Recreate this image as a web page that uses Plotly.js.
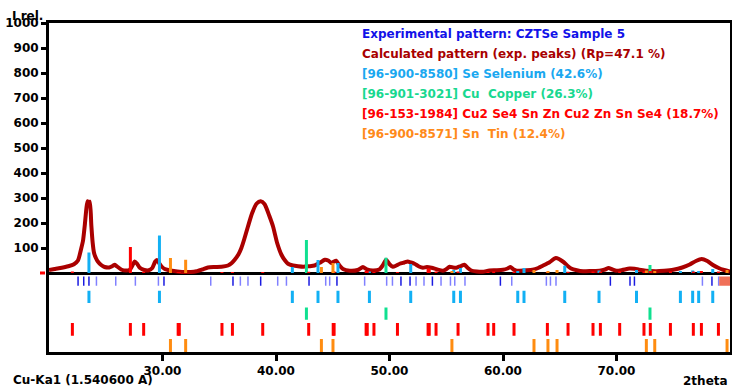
<!DOCTYPE html>
<html>
<head>
<meta charset="utf-8">
<script src="https://cdn.plot.ly/plotly-3.0.1.min.js"></script>
<style>html,body{margin:0;padding:0;background:#fff;}#chart{width:732px;height:387px;}</style>
</head>
<body>
<div id="chart"></div>
<script>
// ---- Calculated pattern (2theta, intensity) ----
const twoTheta = [20.0,20.5,21.0,21.7,22.2,22.55,22.85,23.0,23.15,23.3,23.4,23.5,23.6,23.73,23.85,23.97,24.15,24.3,24.6,24.9,25.3,25.6,25.8,26.0,26.4,26.8,27.1,27.35,27.55,27.75,28.0,28.4,28.8,29.1,29.35,29.5,29.7,29.9,30.2,30.5,31.0,31.5,32.0,32.5,33.0,33.5,34.0,34.6,35.2,35.77,36.1,36.36,36.7,36.95,37.2,37.53,37.9,38.3,38.65,39.0,39.4,39.74,40.1,40.48,40.8,41.06,41.5,41.94,42.4,42.9,43.4,43.9,44.3,44.6,44.88,45.1,45.3,45.6,45.9,46.5,47.2,47.66,48.0,48.5,49.1,49.4,49.7,50.0,50.3,50.6,50.9,51.3,51.6,51.9,52.2,52.6,52.95,53.3,53.7,54.2,54.7,55.0,55.3,55.6,55.9,56.3,56.6,56.9,57.2,57.7,58.2,58.8,59.4,60.0,60.4,60.65,60.9,61.2,62.0,62.6,63.1,63.5,64.1,64.66,65.3,65.7,66.0,66.5,67.05,67.8,68.5,69.0,69.3,69.6,70.0,70.5,71.15,71.6,72.0,72.6,73.5,74.2,75.0,75.8,76.45,77.0,77.5,78.0,78.5,79.0,79.4,80.0];
const calcIntensity = [12,16,20,27,35,50,100,130,190,260,287,280,285,190,120,80,58,46,32,24,22,28,33,26,13,10,12,30,46,38,21,12,11,20,45,52,40,27,16,12,8,5,4,4,7,14,22,24,25,30,40,53,75,100,135,186,240,278,287,275,230,186,120,73,50,37,30,27,25,27,30,42,53,50,40,46,49,30,16,9,12,24,15,10,14,30,53,35,25,30,37,42,46,42,37,26,21,24,21,14,9,15,25,22,21,28,33,20,10,6,5,10,11,13,18,24,15,9,11,13,20,29,43,60,45,28,18,11,7,8,9,14,20,15,9,12,18,17,13,9,7,9,13,22,34,48,56,48,32,20,13,6];

// ---- Experimental peak positions (row 1) ----
const expPeaksStrong = [22.56,23.06,23.52,30.13,36.21,38.65,42.91,45.37,51.01,51.81,53.78,59.77,69.46,71.19,71.58,78.41];
const expPeaksWeak = [24.18,25.88,27.61,29.64,34.25,36.86,37.53,40.15,40.92,44.38,44.73,47.81,49.75,50.26,52.34,53.04,54.54,55.37,55.75,56.65,60.77,63.82,64.18,64.67,77.57,79.0];
const expOverflow = [79.05, 80.0];

// ---- Phase reference patterns ----
const sePos = [23.52,29.73,41.44,43.70,45.46,48.23,51.87,55.66,56.25,61.30,61.85,65.44,68.46,71.76,75.63,76.71,77.24,78.48];
const seInt = [82,150,24,52,40,6,36,12,20,8,20,29,10,12,8,10,8,16];
const cuPos = [42.68,49.69,72.95];
const cuInt = [132,61,32];
const cztsePos = [22.06,27.17,28.34,31.38,31.48,35.24,36.16,38.83,42.88,45.04,45.12,47.94,48.04,48.63,50.70,53.40,53.50,54.10,56.04,58.68,59.18,60.97,63.91,65.73,67.93,68.58,70.28,72.42,72.98,74.75,76.77,77.48,78.98];
const cztseInt = [6,104,5,4,4,4,4,4,5,6,6,8,8,4,4,18,18,6,6,4,6,5,4,5,6,5,6,6,8,6,6,8,6];
const snPos = [30.70,32.04,44.00,45.02,55.50,62.73,63.96,64.76,72.63,73.37,79.74];
const snInt = [60,53,24,40,8,12,8,12,10,8,12];

const legendLines = [
  {text:'Experimental pattern: CZTSe Sample 5', color:'#1212e8'},
  {text:'Calculated pattern (exp. peaks) (Rp=47.1 %)', color:'#a80000'},
  {text:'[96-900-8580] Se Selenium (42.6%)', color:'#1aa8f0'},
  {text:'[96-901-3021] Cu  Copper (26.3%)', color:'#18d890'},
  {text:'[96-153-1984] Cu2 Se4 Sn Zn Cu2 Zn Sn Se4 (18.7%)', color:'#ff0000'},
  {text:'[96-900-8571] Sn  Tin (12.4%)', color:'#ff8a1a'}
];
const xTicks = [30,40,50,60,70];
const yTicks = [100,200,300,400,500,600,700,800,900,1000];

// ---- helpers ----
function sticks(pos, tops, bottom) {
  const x = [], y = [];
  pos.forEach((p, i) => {
    x.push(p, p, null);
    y.push(Array.isArray(tops) ? tops[i] : tops, bottom, null);
  });
  return {x, y};
}
function stickTrace(pos, tops, bottom, color, width) {
  const s = sticks(pos, tops, bottom);
  return {x: s.x, y: s.y, mode: 'lines', type: 'scatter', line: {color: color, width: width}, hoverinfo: 'skip', connectgaps: false};
}

const SE_C = '#12b0f4', CU_C = '#10e090', CZ_C = '#ff0000', SN_C = '#ff8c10';
const rows = {exp: [-14, -51], se: [-71, -120], cu: [-138, -187], cz: [-200, -251], sn: [-264, -320]};

const traces = [
  {x: twoTheta, y: calcIntensity, type: 'scatter', mode: 'lines', line: {color: '#aa0000', width: 4, shape: 'spline', smoothing: 0.6}, hoverinfo: 'skip'},
  stickTrace(sePos, seInt, 0, SE_C, 3),
  stickTrace(cuPos, cuInt, 0, CU_C, 3),
  stickTrace(cztsePos, cztseInt, 0, CZ_C, 3),
  stickTrace(snPos, snInt, 0, SN_C, 3),
  stickTrace(expPeaksWeak, rows.exp[0], rows.exp[1], '#8080ff', 1.5),
  stickTrace(expPeaksStrong, rows.exp[0], rows.exp[1], '#1a1ae0', 1.5),
  stickTrace(sePos, rows.se[0], rows.se[1], SE_C, 3),
  stickTrace(cuPos, rows.cu[0], rows.cu[1], CU_C, 3),
  stickTrace(cztsePos, rows.cz[0], rows.cz[1], CZ_C, 3),
  stickTrace(snPos, rows.sn[0], rows.sn[1], SN_C, 3)
];

const F = 'DejaVu Sans';
const FS = 12;
const L = 49, R = 2, T = 23, B = 35, W = 732, H = 387;
const pw = W - L - R, ph = H - T - B;
const px = v => (v - L) / pw;
const py = v => (H - B - v) / ph;

const annotations = legendLines.map((d, i) => ({
  xref: 'paper', yref: 'paper', x: px(360), y: py(34.3 + i * 20), xanchor: 'left', yanchor: 'middle',
  text: d.text, showarrow: false, font: {family: F, size: FS, weight: 'bold', color: d.color}
}));
annotations.push(
  {xref:'paper', yref:'paper', x: px(10), y: py(16), xanchor:'left', yanchor:'middle', text:'I rel.', showarrow:false, font:{family:F, size:FS, weight:'bold', color:'#000'}},
  {xref:'paper', yref:'paper', x: px(11), y: py(379.5), xanchor:'left', yanchor:'middle', text:'Cu-Ka1 (1.540600 A)', showarrow:false, font:{family:F, size:FS, weight:'bold', color:'#000'}},
  {xref:'paper', yref:'paper', x: px(730), y: py(380.5), xanchor:'right', yanchor:'middle', text:'2theta', showarrow:false, font:{family:F, size:FS, weight:'bold', color:'#000'}}
);

const layout = {
  width: W, height: H,
  margin: {l: L, r: R, t: T, b: B, pad: 0},
  paper_bgcolor: '#fff', plot_bgcolor: '#fff',
  showlegend: false,
  xaxis: {
    range: [20, 80], tickvals: xTicks, ticktext: xTicks.map(v => v.toFixed(2)),
    ticks: 'outside', ticklen: 6, tickwidth: 3, tickcolor: '#000',
    showline: true, linecolor: '#000', linewidth: 3, mirror: true,
    showgrid: false, zeroline: false,
    tickfont: {family: F, size: FS, weight: 'bold', color: '#000'}
  },
  yaxis: {
    range: [-316, 1000], tickvals: yTicks,
    ticks: 'outside', ticklen: 5, tickwidth: 3, tickcolor: '#000',
    showline: true, linecolor: '#000', linewidth: 3, mirror: true,
    showgrid: false, zeroline: true, zerolinecolor: '#000', zerolinewidth: 3,
    tickfont: {family: F, size: FS, weight: 'bold', color: '#000'}
  },
  shapes: [
    {type: 'rect', xref: 'x', yref: 'y', x0: expOverflow[0], x1: expOverflow[1], y0: rows.exp[1], y1: rows.exp[0], fillcolor: '#f07058', line: {width: 0}},
    {type: 'line', xref: 'paper', yref: 'y', x0: px(40), x1: px(45), y0: 0, y1: 0, line: {color: '#ff0000', width: 3}}
  ],
  annotations: annotations
};

Plotly.newPlot('chart', traces, layout, {staticPlot: true, displayModeBar: false});
</script>
</body>
</html>
